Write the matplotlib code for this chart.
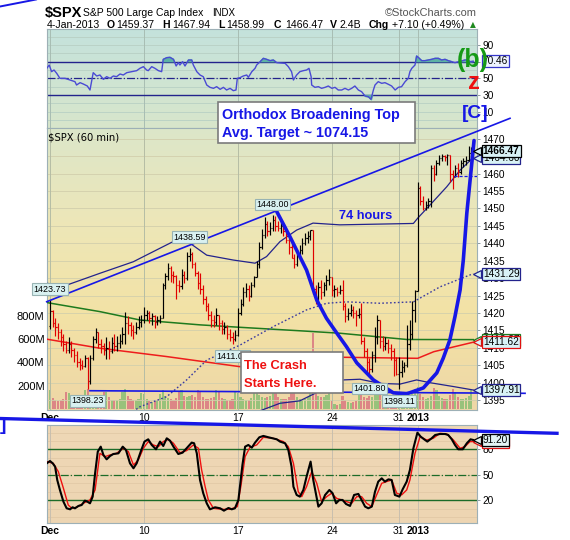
"""
StockCharts-style rebuild of the $SPX 60-minute chart (Dec 2012 - Jan 2013):
RSI pane on top, price bars + volume + bands in the middle, slow stochastics
below, plus the hand-drawn Elliott-wave annotations.
"""

import numpy as np
import matplotlib
matplotlib.use("Agg")
import matplotlib.pyplot as plt
from matplotlib.colors import LinearSegmentedColormap
from matplotlib.lines import Line2D
from matplotlib.patches import Rectangle

plt.rcParams["font.family"] = ["Liberation Sans", "DejaVu Sans"]

W, H, DPI = 570, 540, 100

# ------------------------------------------------------------------ data
# trading sessions Dec 3 2012 .. Jan 4 2013 (Dec 24 was a half day)
BARS_PER_DAY = [7] * 15 + [4] + [7] * 7
WEEK_START_DAY = [0, 5, 10, 15, 19, 20]
WEEK_LABELS = ["Dec", "10", "17", "24", "31", "2013"]
BOLD_LABELS = {"Dec", "2013"}

FIRST_OPEN = 1416.34
HIGH = [
    1423.73, 1421.0, 1418.5, 1417.0, 1415.5, 1414.0, 1412.0,   # Dec 3
    1413.1, 1412.0, 1410.0, 1409.0, 1407.0, 1406.5, 1408.0,    # Dec 4
    1407.5, 1408.0, 1413.5, 1415.6, 1414.5, 1412.5, 1411.5,    # Dec 5
    1413.0, 1412.0, 1413.0, 1414.0, 1413.5, 1414.0, 1416.0,    # Dec 6
    1420.3, 1419.0, 1417.5, 1416.5, 1417.5, 1419.0, 1419.5,    # Dec 7
    1421.6, 1421.0, 1420.5, 1420.0, 1419.5, 1419.0, 1419.5,    # Dec 10
    1428.5, 1431.5, 1434.3, 1433.5, 1432.0, 1431.0, 1429.5,    # Dec 11
    1432.6, 1432.0, 1437.5, 1438.59, 1437.5, 1434.5, 1432.0,   # Dec 12
    1431.4, 1428.0, 1425.0, 1423.0, 1420.5, 1419.5, 1421.5,    # Dec 13
    1419.5, 1418.0, 1417.5, 1416.5, 1415.5, 1414.5, 1415.0,    # Dec 14
    1421.5, 1424.0, 1427.5, 1428.5, 1428.0, 1429.0, 1430.7,    # Dec 17
    1435.0, 1440.5, 1444.0, 1447.5, 1446.5, 1446.0, 1448.00,   # Dec 18
    1447.7, 1446.5, 1446.5, 1445.5, 1444.0, 1442.0, 1440.0,    # Dec 19
    1437.0, 1438.0, 1439.5, 1441.5, 1443.0, 1443.5, 1443.7,    # Dec 20
    1443.7, 1428.0, 1429.0, 1429.5, 1429.0, 1431.0, 1432.5,    # Dec 21
    1430.2, 1428.0, 1427.5, 1428.0,                            # Dec 24
    1429.4, 1423.0, 1421.5, 1422.5, 1422.0, 1421.0, 1421.5,    # Dec 26
    1422.8, 1413.0, 1410.0, 1407.0, 1409.0, 1416.0, 1419.5,    # Dec 27
    1418.1, 1413.5, 1413.0, 1412.5, 1411.0, 1410.0, 1407.5,    # Dec 28
    1407.5, 1406.5, 1406.0, 1416.5, 1418.0, 1423.5, 1426.7,    # Dec 31
    1457.7, 1456.5, 1453.5, 1452.0, 1453.0, 1462.5, 1462.4,    # Jan 2
    1464.0, 1465.2, 1465.5, 1465.3, 1465.5, 1465.4, 1461.0,    # Jan 3
    1462.5, 1463.0, 1464.0, 1464.5, 1465.0, 1467.94, 1467.5,   # Jan 4
]
LOW = [
    1415.5, 1416.0, 1413.5, 1412.5, 1410.5, 1409.0, 1408.5,
    1408.5, 1407.5, 1406.0, 1404.5, 1403.7, 1403.8, 1404.5,
    1398.23, 1399.5, 1406.5, 1411.5, 1410.0, 1408.5, 1408.0,
    1406.8, 1406.8, 1408.5, 1409.0, 1409.0, 1410.0, 1411.0,
    1411.0, 1414.0, 1413.5, 1412.5, 1414.0, 1415.5, 1416.0,
    1417.0, 1418.0, 1417.0, 1416.5, 1415.6, 1416.5, 1417.0,
    1418.6, 1427.0, 1429.5, 1429.0, 1428.5, 1424.0, 1426.0,
    1427.0, 1428.5, 1429.5, 1435.0, 1433.0, 1430.5, 1426.8,
    1425.5, 1422.5, 1420.5, 1418.0, 1416.0, 1416.0, 1416.5,
    1415.0, 1414.0, 1414.0, 1412.5, 1411.9, 1411.00, 1412.0,
    1413.5, 1419.5, 1422.0, 1424.5, 1423.5, 1424.5, 1427.5,
    1430.4, 1433.0, 1438.5, 1441.5, 1442.0, 1442.5, 1443.5,
    1443.5, 1443.5, 1443.0, 1442.0, 1440.0, 1437.0, 1435.8,
    1432.8, 1433.5, 1436.0, 1437.0, 1439.5, 1440.0, 1441.0,
    1425.5, 1422.6, 1423.0, 1424.0, 1425.0, 1426.5, 1428.0,
    1425.0, 1424.7, 1425.0, 1425.5,
    1421.0, 1417.5, 1418.0, 1419.0, 1418.5, 1416.4, 1418.5,
    1411.0, 1407.5, 1402.5, 1401.80, 1403.0, 1406.0, 1411.0,
    1410.0, 1409.0, 1409.5, 1408.5, 1406.5, 1402.0, 1402.2,
    1398.11, 1401.5, 1403.0, 1404.5, 1409.5, 1412.5, 1417.5,
    1426.2, 1451.0, 1449.6, 1449.5, 1450.0, 1450.5, 1458.0,
    1459.5, 1462.5, 1463.5, 1463.5, 1462.5, 1457.5, 1455.5,
    1458.99, 1459.0, 1460.0, 1462.0, 1462.5, 1463.5, 1464.5,
]
CLOSE = [
    1420.5, 1417.0, 1416.0, 1414.5, 1413.0, 1411.0, 1409.5,
    1411.0, 1409.5, 1408.0, 1406.0, 1405.0, 1404.8, 1407.0,
    1400.5, 1407.0, 1412.5, 1414.5, 1411.0, 1410.5, 1409.3,
    1410.0, 1409.0, 1411.5, 1410.5, 1411.5, 1412.0, 1413.9,
    1417.0, 1416.5, 1415.0, 1414.5, 1416.0, 1417.5, 1418.1,
    1419.5, 1420.0, 1418.5, 1419.0, 1417.5, 1418.0, 1418.6,
    1428.0, 1430.5, 1433.0, 1431.0, 1430.5, 1428.0, 1427.8,
    1431.0, 1430.0, 1436.5, 1437.0, 1434.0, 1431.5, 1428.5,
    1427.0, 1424.0, 1422.0, 1419.5, 1418.0, 1417.5, 1419.5,
    1417.0, 1415.5, 1416.0, 1414.0, 1413.0, 1412.5, 1413.6,
    1420.0, 1422.5, 1426.0, 1427.0, 1425.0, 1428.0, 1430.4,
    1434.0, 1439.0, 1442.5, 1445.5, 1443.5, 1444.5, 1446.8,
    1445.0, 1444.5, 1445.0, 1443.5, 1441.0, 1439.0, 1435.8,
    1434.0, 1437.0, 1438.0, 1440.0, 1441.5, 1442.0, 1443.7,
    1427.0, 1424.0, 1427.5, 1426.0, 1428.0, 1429.5, 1430.2,
    1426.5, 1427.0, 1426.0, 1426.7,
    1422.0, 1419.0, 1420.0, 1421.0, 1420.0, 1419.5, 1419.8,
    1412.0, 1409.0, 1406.0, 1404.0, 1408.0, 1413.0, 1418.1,
    1412.0, 1410.5, 1411.5, 1410.0, 1409.0, 1406.5, 1402.4,
    1403.0, 1404.5, 1405.0, 1411.0, 1414.0, 1421.0, 1426.2,
    1456.0, 1452.0, 1450.0, 1451.0, 1452.0, 1461.5, 1460.0,
    1463.0, 1464.5, 1465.0, 1464.7, 1465.2, 1460.0, 1459.37,
    1461.5, 1460.5, 1463.0, 1463.5, 1464.0, 1466.0, 1466.47,
]
VOLUME_M = [
    160, 95, 80, 70, 75, 90, 150,
    140, 100, 85, 80, 90, 95, 160,
    175, 120, 95, 85, 80, 90, 150,
    150, 100, 80, 75, 80, 85, 145,
    170, 110, 90, 80, 75, 85, 140,
    130, 85, 70, 60, 65, 75, 130,
    165, 110, 95, 85, 80, 95, 155,
    160, 115, 100, 110, 120, 105, 165,
    150, 105, 90, 85, 95, 100, 160,
    145, 95, 85, 80, 75, 90, 150,
    140, 100, 85, 80, 80, 95, 165,
    170, 120, 100, 95, 100, 110, 175,
    150, 105, 90, 85, 90, 105, 170,
    155, 100, 85, 80, 85, 100, 165,
    650, 150, 110, 100, 105, 120, 190,
    70, 45, 35, 40,
    110, 75, 60, 55, 60, 70, 120,
    140, 100, 95, 110, 100, 120, 165,
    120, 85, 75, 70, 75, 95, 150,
    140, 100, 90, 95, 110, 130, 175,
    190, 125, 100, 90, 95, 110, 180,
    165, 110, 95, 85, 90, 120, 175,
    150, 105, 90, 85, 95, 110, 165,
]
DAILY_VOLUME = "2.4B"

# bars that carry a high/low value flag
FLAG_BARS = [0, 52, 83, 68, 14, 119, 130]
FLAG_SIDE = ["high", "high", "high", "low", "low", "low", "low"]

# Bollinger bands (sampled along the chart) and two moving averages
BB_UP_BAR = [-1.2, 6.2, 18.6, 31.0, 41.0, 45.9, 52.2, 58.4, 68.3, 76.4, 80.7,
             85.7, 91.9, 98.0, 108.0, 135.4, 137.1, 141.6, 147.8, 152.8, 157.7]
BB_UP = [1428.5, 1428.0, 1431.4, 1434.7, 1438.6, 1440.5, 1440.0, 1436.6, 1435.2,
         1434.3, 1436.2, 1440.5, 1443.8, 1445.8, 1445.3, 1445.7, 1447.3, 1451.0,
         1456.2, 1461.0, 1464.60]
BB_MID_BAR = [25.0, 33.5, 43.5, 50.9, 58.4, 70.8, 83.2, 95.6, 103.1, 110.5,
              123.0, 135.4, 145.3, 157.7]
BB_MID = [1388.5, 1393.1, 1396.0, 1400.8, 1406.5, 1410.8, 1416.1, 1420.9,
          1422.8, 1423.2, 1422.8, 1423.2, 1427.5, 1431.29]
BB_LOW_BAR = [65.0, 75.7, 85.7, 93.1, 98.1, 109.3, 115.5, 123.0, 130.4, 136.6,
              141.6, 150.3, 157.7]
BB_LOW = [1388.0, 1391.2, 1394.1, 1394.8, 1396.7, 1400.8, 1401.0, 1399.8,
          1399.6, 1400.8, 1400.0, 1398.9, 1397.91]
SMA_G_BAR = [-1.2, 18.6, 33.5, 55.9, 70.8, 93.1, 108.0, 133.0, 157.7]
SMA_G = [1423.0, 1420.4, 1418.0, 1416.6, 1415.9, 1414.9, 1414.2, 1412.4, 1412.37]
SMA_R_BAR = [-1.2, 18.6, 43.5, 70.8, 109.0, 137.0, 143.0, 150.0, 157.7]
SMA_R = [1412.5, 1409.9, 1407.5, 1404.6, 1407.3, 1407.0, 1408.9, 1410.2, 1411.62]

# RSI(14)
RSI_BAR = [-1.2, -0.3, 0.6, 1.5, 2.5, 3.7, 5.6, 7.5, 9.3, 9.9, 11.2, 12.4, 13.9,
           14.9, 16.1, 17.4, 18.6, 19.9, 21.1, 22.4, 23.6, 24.8, 26.1, 27.3,
           28.6, 30.4, 32.3, 33.5, 34.8, 36.0, 36.6, 37.9, 39.1, 40.4, 41.6,
           42.2, 43.5, 44.7, 46.0, 47.0, 47.8, 48.4, 49.4, 50.3, 51.6, 52.8,
           53.4, 54.7, 55.9, 57.1, 58.4, 59.6, 60.9, 62.1, 63.4, 64.6, 65.8,
           67.1, 68.3, 69.3, 69.8, 70.8, 72.0, 73.3, 73.9, 75.2, 76.4, 77.0,
           78.3, 79.5, 80.7, 82.0, 83.2, 84.5, 87.6, 88.8, 90.0, 90.7, 91.9,
           93.1, 94.4, 95.6, 96.5, 97.3, 97.5, 98.7, 100.0, 101.2, 102.5,
           103.7, 105.0, 106.2, 107.4, 108.7, 109.9, 111.2, 112.4, 113.6,
           114.9, 116.1, 117.4, 118.6, 119.6, 120.5, 121.1, 122.3, 123.6,
           124.8, 126.1, 127.3, 128.6, 129.8, 131.0, 132.3, 133.5, 134.1,
           134.8, 136.0, 136.6, 137.2, 138.5, 139.7, 141.0, 142.2, 143.5,
           144.7, 145.9, 147.2, 148.4, 149.7, 150.9, 152.2, 153.4, 154.6,
           155.6, 156.5, 157.7]
RSI_VAL = [62, 66, 58, 60, 56, 50, 50, 48, 46, 42, 44.8, 43.2, 40.8,
           36, 56.8, 52.8, 54, 48.8, 52, 50, 52.8, 52, 55.2, 54,
           56.8, 58, 59.2, 62, 64, 60, 59.2, 64, 62, 59.2, 58,
           72.8, 74.8, 75.2, 72.8, 64.8, 68.8, 66, 70, 64.8, 72, 72,
           66, 58, 54, 52, 42, 39.2, 38, 40, 36.8, 39.2, 36,
           38, 35.2, 36, 50, 50.8, 52.8, 54, 51.2, 58, 62, 66,
           70, 74, 72.8, 71.2, 72, 68.8, 68, 64, 58, 48, 54,
           58, 59.2, 60, 62, 52, 42, 39.2, 40, 38, 39.2,
           40.8, 38, 39.2, 36, 36, 38, 36, 38, 40.8,
           36, 34, 28.8, 28, 24.8, 36, 42, 46, 44,
           44.8, 42.8, 40.8, 36, 39.2, 40, 46, 50, 58,
           62, 66, 76.8, 75.2, 71.2, 71.2, 72, 72.8, 74,
           74, 72, 72.8, 71.2, 70, 68.8, 70, 70.8, 72,
           72, 70, 70.46]

# Slow stochastics %K (black) and %D (red)
STO_K_BAR = [-1.2, 0, 1, 1.9, 2.7, 3.7, 5, 6.2, 7.5, 8.4, 9.3, 10.6, 11.8, 13,
             13.9, 14.9, 15.9, 16.8, 17.8, 18.9, 19.9, 21.1, 22.4, 23.6, 25.5,
             27.1, 28.3, 29.8, 31.1, 32.3, 33.8, 35.2, 36.6, 37.9, 39.5, 41,
             42.2, 43.5, 44.7, 46, 47.8, 49.4, 50.9, 52.8, 53.7, 54.7, 55.9,
             57.1, 58.4, 59.6, 61.5, 63.4, 64.8, 66.5, 67.7, 68.9, 70.2, 71.7,
             72.7, 73.9, 75.2, 76.4, 78, 79.5, 81.4, 84.5, 85.7, 87.6, 88.8,
             90, 90.7, 91.9, 93.1, 94.4, 95.6, 97.1, 98.1, 100, 101.2, 102.5,
             104.1, 105.3, 106.6, 107.8, 109, 110.3, 111.8, 113.3, 114.9,
             116.1, 117.4, 118.6, 119.9, 121.1, 122.3, 123.6, 124.8, 126.1,
             127.3, 128.5, 130.2, 131.4, 132.9, 134.1, 135.4, 136.9, 138.1,
             139.4, 140.6, 142.2, 143.5, 145.3, 147.2, 148.4, 149.7, 150.9,
             152.1, 153.8, 155.3, 156.7, 157.7]
STO_K = [63.6, 66.3, 63.6, 59.6, 43.8, 32, 18.2, 10.3, 9.1, 11.5, 10.3, 13.1,
         14.2, 19.4, 18.2, 16.2, 24.1, 51.7, 77.4, 83.3, 73.5, 68.3, 72.3, 74.6,
         75.4, 83.3, 79.4, 63.6, 57.7, 63.6, 77.4, 89.3, 92, 85.3, 80.2, 89.3,
         84.1, 93.2, 90.4, 83.3, 74.6, 76.2, 81.4, 88.1, 87.3, 75.4, 43.8, 28.1,
         16.2, 9.1, 11.5, 10.3, 7.5, 10.7, 9.1, 10.3, 20.2, 61.6, 83.3, 85.3,
         82.1, 88.1, 94.4, 96, 94.4, 92, 89.3, 87.3, 79.4, 59.6, 35.9, 26.1,
         24.1, 32, 47.8, 65.6, 43.8, 12.3, 16.2, 26.1, 32, 28.1, 16.2, 20.2,
         20.2, 15.4, 13.1, 26.1, 27.3, 20.2, 12.3, 10.3, 12.3, 30, 41.9, 45.8,
         41.9, 44.6, 43.8, 26.1, 24.1, 32.8, 41.9, 55.7, 81.4, 99.9, 95.2, 92,
         89.3, 93.2, 97.1, 98.3, 98.3, 97.1, 92, 85.3, 80.2, 80.2, 87.3, 92,
         91.2]
STO_D_BAR = [-1.2, 1.2, 3.1, 5, 6.8, 8.1, 9.9, 12.4, 14.9, 16.8, 18.6, 20.5,
             22.4, 24.8, 27.3, 29.2, 31.1, 32.9, 34.8, 36.6, 38.5, 40.4, 42.2,
             44.1, 46, 48.4, 50.9, 53.4, 55.3, 56.5, 57.8, 59, 60.9, 64, 67.1,
             69.8, 71.1, 72.7, 74.5, 77, 79.5, 83.2, 87, 88.8, 90.7, 92.5, 93.8,
             95.6, 97.5, 99.4, 101.2, 103.1, 104.9, 106.8, 108.7, 110.5, 112.4,
             114.3, 116.1, 118, 119.9, 121.7, 123.6, 125.4, 127.3, 129.2, 131,
             132.9, 134.1, 136, 137.9, 140.3, 142.8, 145.3, 147.8, 150.3, 152.8,
             154.6, 156.5, 158]
STO_D = [65.6, 63.6, 53.7, 34, 14.2, 10.3, 11.5, 16.2, 20.2, 32, 75.4, 71.5,
         73.5, 75.4, 81.4, 77.4, 61.6, 67.5, 81.4, 89.3, 85.3, 83.3, 89.3, 92,
         87.3, 76.2, 78.6, 85.3, 81.4, 55.7, 36, 20.2, 10.3, 9.1, 9.1, 12.3,
         36, 71.5, 82.5, 85.3, 94.4, 93.2, 89.3, 83.3, 63.6, 30, 24.1, 36,
         53.7, 39.9, 18.2, 24.1, 28.1, 22.1, 20.2, 18.2, 16.2, 24.1, 24.1,
         16.2, 12.3, 26.1, 39.9, 41.9, 43.8, 28.1, 26.1, 32, 43.8, 75.4, 95.2,
         91.2, 93.2, 99.1, 98.3, 91.2, 81.4, 83.3, 89.3, 89.3]

# hand-drawn lines on the price pane (bar index, price)
TOP_LINE_BAR = [-1.23, 171.4]
TOP_LINE = [1423.24, 1475.87]
SUPPORT_BAR = [14.9, 177.0]
SUPPORT = [1397.70, 1396.96]
CRASH_BAR = [84.5, 89.4, 95.6, 99.4, 103.0, 106.8, 110.5, 114.3, 120.5, 127.9,
             132.9, 139.1, 144.1, 146.5, 149.0, 150.9, 152.8, 154.0, 155.3, 158.0]
CRASH = [1449.1, 1441.9, 1432.3, 1423.7, 1418.5, 1414.3, 1410.3, 1405.7, 1400.8,
         1397.1, 1396.8, 1398.5, 1402.8, 1407.0, 1412.3, 1419.0, 1426.6, 1435.2,
         1448.6, 1469.5]

# ---------------------------------------------------------------- styling
XLIM = (-1.23, 159.1)
PRICE_LIM = (1392.17, 1473.09)
VOL_LIM = (-8.6, 2412)
RSI_LIM = (-9.6, 109.2)
STO_LIM = (-7.46, 108.95)

BLUE = "#1717e6"
NAVY = "#23238c"
SPINE = "#9db0b6"
TAG_FC = "#d8f2f6"
TICK_SIZE = 7.3


def fx(x):
    return x / W


def fy(y):
    return 1 - y / H


def axes_px(fig, left, top, right, bottom):
    return fig.add_axes([fx(left), fy(bottom), (right - left) / W, (bottom - top) / H])


def paint_background(ax, colors):
    cmap = LinearSegmentedColormap.from_list("bg", colors)
    ax.imshow(np.linspace(0, 1, 256)[:, None], cmap=cmap, aspect="auto",
              extent=(0, 1, 0, 1), transform=ax.transAxes, zorder=-10)


def style_panel(ax, ylim):
    ax.set_xlim(XLIM)
    ax.set_ylim(ylim)
    for s in ax.spines.values():
        s.set_color(SPINE)
        s.set_linewidth(0.8)
    ax.yaxis.tick_right()
    ax.tick_params(axis="y", length=2.5, width=0.6, color="#7a8a90", pad=1.2,
                   labelsize=TICK_SIZE)


def date_axis(ax, ticks, pad):
    ax.set_xticks(ticks)
    ax.set_xticklabels(WEEK_LABELS)
    for lab in ax.get_xticklabels():
        lab.set_fontweight("bold" if lab.get_text() in BOLD_LABELS else "normal")
    ax.tick_params(axis="x", length=0, pad=pad, labelsize=7.5)


def value_tag(ax, value, text, edge, bold=False, fc=TAG_FC, pointer=True):
    """StockCharts-like price tag just right of the pane, pointing at the axis."""
    if pointer:
        ax.plot([1.0], [value], marker="<", ms=5.5, mfc=fc, mec=edge, mew=0.9,
                transform=ax.get_yaxis_transform(), clip_on=False, zorder=29)
    ax.annotate(text, xy=(1, value), xycoords=("axes fraction", "data"),
                xytext=(4.2, 0), textcoords="offset points", ha="left", va="center",
                fontsize=7.3, fontweight="bold" if bold else "normal",
                bbox=dict(boxstyle="square,pad=0.1", fc=fc, ec=edge, lw=0.9),
                annotation_clip=False, zorder=30)


def main():
    close = np.array(CLOSE)
    high = np.array(HIGH)
    low = np.array(LOW)
    vol = np.array(VOLUME_M, dtype=float)
    assert len(close) == len(high) == len(low) == len(vol) == sum(BARS_PER_DAY)
    bars = np.arange(len(close))
    opens = np.r_[FIRST_OPEN, close[:-1]]
    up = close >= opens
    day_start = np.r_[0, np.cumsum(BARS_PER_DAY)[:-1]]
    week_ticks = day_start[WEEK_START_DAY]

    fig = plt.figure(figsize=(W / DPI, H / DPI), dpi=DPI)

    # ---------------- RSI pane
    ax_rsi = axes_px(fig, 46.7, 29, 477, 128)
    paint_background(ax_rsi, ["#c4e2dc", "#d8e6cb"])
    for v in range(0, 101, 10):
        ax_rsi.axhline(v, color="#b8d0c4", lw=0.6, zorder=1)
    for t in week_ticks:
        ax_rsi.axvline(t, color="#a8bdb3", lw=0.7, zorder=1)
    ax_rsi.axhline(70, color=NAVY, lw=1.0, zorder=2)
    ax_rsi.axhline(30, color=NAVY, lw=1.0, zorder=2)
    ax_rsi.axhline(50, color=NAVY, lw=0.9, ls="-.", zorder=2)
    rb, rv = np.array(RSI_BAR), np.array(RSI_VAL)
    ax_rsi.fill_between(rb, rv, 70, where=rv > 70, interpolate=True,
                        color="#5db3a4", zorder=3)
    ax_rsi.fill_between(rb, rv, 30, where=rv < 30, interpolate=True,
                        color="#5db3a4", zorder=3)
    ax_rsi.plot(rb, rv, color="#4a4ad4", lw=1.0, zorder=4)
    style_panel(ax_rsi, RSI_LIM)
    ax_rsi.set_xticks([])
    ax_rsi.set_yticks([10, 30, 50, 70, 90])
    value_tag(ax_rsi, RSI_VAL[-1], f"{RSI_VAL[-1]:.2f}", "#3535c8",
              fc="#eef3ff", pointer=False)

    # ---------------- price + volume pane
    ax_vol = axes_px(fig, 46.7, 128, 477, 410)
    ax = axes_px(fig, 46.7, 128, 477, 410)
    ax_vol.set_zorder(1)
    ax.set_zorder(2)
    ax.patch.set_visible(False)

    paint_background(ax_vol, ["#dce6c9", "#ede7b8", "#f3e2a5", "#eed7a7"])
    ax_vol.bar(bars, vol, width=0.8, color=np.where(up, "#98c27b", "#dc8686"),
               edgecolor="none", zorder=2)
    ax_vol.set_xlim(XLIM)
    ax_vol.set_ylim(VOL_LIM)
    ax_vol.set_xticks([])
    ax_vol.set_yticks([200, 400, 600, 800])
    ax_vol.set_yticklabels([f"{v}M" for v in (200, 400, 600, 800)])
    ax_vol.tick_params(axis="y", length=0, pad=1.5, labelsize=8)
    for s in ax_vol.spines.values():
        s.set_visible(False)

    for p in range(1395, 1471, 5):
        ax.axhline(p, color="#d2cfac", lw=0.6, zorder=0.5)
    for t in week_ticks:
        ax.axvline(t, color="#b5bda5", lw=0.7, zorder=0.5)

    ax.plot(SMA_R_BAR, SMA_R, color="#ee1c1c", lw=1.1, zorder=3)
    ax.plot(SMA_G_BAR, SMA_G, color="#1e7a1e", lw=1.1, zorder=3)
    ax.plot(BB_UP_BAR, BB_UP, color=NAVY, lw=0.9, zorder=3)
    ax.plot(BB_LOW_BAR, BB_LOW, color=NAVY, lw=0.9, zorder=3)
    ax.plot(BB_MID_BAR, BB_MID, color="#3b3ba0", lw=1.0, ls=(0, (1.2, 1.6)), zorder=3)

    colors = np.where(up, "#000000", "#e00000")
    ax.vlines(bars, low, high, colors=colors, lw=0.85, zorder=4)
    ax.hlines(opens, bars - 0.45, bars, colors=colors, lw=0.85, zorder=4)
    ax.hlines(close, bars, bars + 0.45, colors=colors, lw=0.85, zorder=4)

    # previous session close marker
    prev_close_bar = day_start[-1] - 1
    ax.hlines(close[prev_close_bar], prev_close_bar + 0.5, XLIM[1],
              colors=BLUE, lw=0.9, linestyles=(0, (2.5, 1.5)), zorder=4)

    # hand-drawn lines
    ax.plot(TOP_LINE_BAR, TOP_LINE, color=BLUE, lw=1.2, zorder=5, clip_on=False)
    ax.plot(SUPPORT_BAR, SUPPORT, color=BLUE, lw=1.2, zorder=5, clip_on=False)
    ax.plot(CRASH_BAR, CRASH, color=BLUE, lw=2.6, zorder=5,
            solid_capstyle="round", solid_joinstyle="round", clip_on=False)

    # high / low flags
    for b, side in zip(FLAG_BARS, FLAG_SIDE):
        val = high[b] if side == "high" else low[b]
        dy = 11 if side == "high" else -12
        ax.annotate(f"{val:.2f}", xy=(b, val), xytext=(0, dy),
                    textcoords="offset pixels", ha="center", va="center",
                    fontsize=6.4, zorder=6,
                    bbox=dict(boxstyle="square,pad=0.16", fc="#d9f1f1",
                              ec="#98b3b3", lw=0.8))

    style_panel(ax, PRICE_LIM)
    ax.set_yticks(np.arange(1395, 1471, 5))
    date_axis(ax, week_ticks, 2.0)
    ax.text(0.004, 0.985, "$SPX (60 min)", transform=ax.transAxes,
            family="DejaVu Sans", fontsize=7.2, va="top", zorder=6)

    value_tag(ax, SMA_G[-1], f"{SMA_G[-1]:.2f}", "#1e7a1e")
    value_tag(ax, SMA_R[-1], f"{SMA_R[-1]:.2f}", "#e01010")
    value_tag(ax, BB_MID[-1], f"{BB_MID[-1]:.2f}", NAVY)
    value_tag(ax, BB_LOW[-1], f"{BB_LOW[-1]:.2f}", NAVY)
    value_tag(ax, BB_UP[-1], f"{BB_UP[-1]:.2f}", NAVY)
    value_tag(ax, close[-1], f"{close[-1]:.2f}", "#000000", bold=True)

    # ---------------- stochastics pane
    ax_sto = axes_px(fig, 46.7, 425, 477, 523.3)
    paint_background(ax_sto, ["#efd8b6", "#edd5b2"])
    for v in range(0, 101, 10):
        ax_sto.axhline(v, color="#e2c9a6", lw=0.6, zorder=1)
    for t in week_ticks:
        ax_sto.axvline(t, color="#c8bfae", lw=0.7, zorder=1)
    ax_sto.axhline(80, color="#1c6b28", lw=1.0, zorder=2)
    ax_sto.axhline(20, color="#1c6b28", lw=1.0, zorder=2)
    ax_sto.axhline(50, color="#1c6b28", lw=0.9, ls="-.", zorder=2)
    ax_sto.plot(STO_D_BAR, STO_D, color="#f01010", lw=1.0, zorder=3)
    ax_sto.plot(STO_K_BAR, STO_K, color="#000000", lw=1.5, zorder=4)
    style_panel(ax_sto, STO_LIM)
    ax_sto.set_yticks([20, 50, 80])
    date_axis(ax_sto, week_ticks, 2.2)
    value_tag(ax_sto, STO_D[-1], f"{STO_D[-1]:.2f}", "#e01010", fc="#e4f4f4")
    value_tag(ax_sto, STO_K[-1], f"{STO_K[-1]:.2f}", "#000000", fc="#e4f4f4")

    # ---------------- header
    fig.text(fx(45), fy(17), "$SPX", fontsize=10.5, fontweight="bold")
    fig.text(fx(83), fy(16), "S&P 500 Large Cap Index", fontsize=7.5)
    fig.text(fx(212.5), fy(16), "INDX", fontsize=7.0)
    fig.text(fx(477), fy(16), "\u00a9StockCharts.com", fontsize=7.9,
             color="#555555", ha="right")
    jan4 = slice(day_start[-1], None)
    o, hi, lo, c = close[day_start[-1] - 1], high[jan4].max(), low[jan4].min(), close[-1]
    chg = c - o
    pieces = [("4-Jan-2013", 46.7, "normal"), ("O", 106.5, "bold"),
              (f"{o:.2f}", 116.5, "normal"), ("H", 162.5, "bold"),
              (f"{hi:.2f}", 172.5, "normal"), ("L", 218, "bold"),
              (f"{lo:.2f}", 226.5, "normal"), ("C", 274, "bold"),
              (f"{c:.2f}", 285, "normal"), ("V", 330, "bold"),
              (DAILY_VOLUME, 339.5, "normal"), ("Chg", 369, "bold"),
              (f"{chg:+.2f} ({chg / o * 100:+.2f}%)", 392.5, "normal")]
    for txt, x, w in pieces:
        fig.text(fx(x), fy(27.5), txt, fontsize=7.6, fontweight=w)
    fig.text(fx(470), fy(27.5), "\u25b2", fontsize=5.5, color="#1f8a1f",
             family="DejaVu Sans")

    # ---------------- annotations (figure level)
    fig.add_artist(Line2D([fx(0), fx(36)], [fy(6.5), fy(-0.5)], color=BLUE,
                          lw=1.4, transform=fig.transFigure, zorder=20))
    fig.add_artist(Line2D([fx(0), fx(557)], [fy(418.5), fy(433.3)], color=BLUE,
                          lw=2.4, transform=fig.transFigure, zorder=20))

    fig.add_artist(Rectangle((fx(218.3), fy(143.3)), (415 - 218.3) / W,
                             (143.3 - 101.7) / H, transform=fig.transFigure,
                             fc="white", ec="#7b7b7b", lw=1.2, zorder=20))
    fig.text(fx(222), fy(119.3), "Orthodox Broadening Top", color=BLUE,
             fontsize=10.4, fontweight="bold", zorder=21)
    fig.text(fx(222), fy(136.7), "Avg. Target ~ 1074.15", color=BLUE,
             fontsize=10.4, fontweight="bold", zorder=21)

    fig.add_artist(Rectangle((fx(240.7), fy(393.3)), (343.3 - 240.7) / W,
                             (393.3 - 351.7) / H, transform=fig.transFigure,
                             fc="white", ec="#7b7b7b", lw=1.2, zorder=20))
    fig.text(fx(243.5), fy(369), "The Crash", color="#ee1111",
             fontsize=9.3, fontweight="bold", zorder=21)
    fig.text(fx(243.5), fy(386.7), "Starts Here.", color="#ee1111",
             fontsize=9.3, fontweight="bold", zorder=21)

    fig.text(fx(339), fy(219.3), "74 hours", color=BLUE, fontsize=9.2,
             fontweight="bold", zorder=21)
    fig.text(fx(456.5), fy(67.5), "(b)", color="#169a16", fontsize=18,
             fontweight="bold", zorder=21)
    fig.text(fx(468), fy(89.3), "z", color="#ee1111", fontsize=17,
             fontweight="bold", zorder=21)
    fig.text(fx(461.5), fy(118.5), "[C]", color=BLUE, fontsize=13.8,
             fontweight="bold", zorder=21)
    fig.text(fx(7.5), fy(430), "[5]", color=BLUE, fontsize=13.8,
             fontweight="bold", ha="right", zorder=21)

    fig.savefig("out.png", dpi=DPI)


if __name__ == "__main__":
    main()
